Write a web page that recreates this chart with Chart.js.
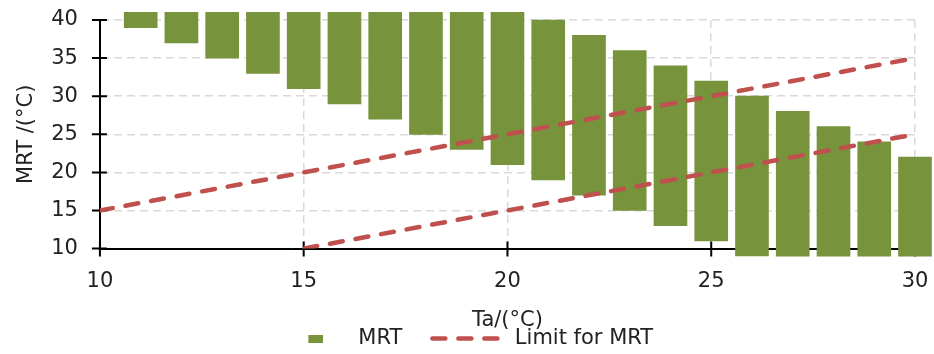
<!DOCTYPE html>
<html>
<head>
<meta charset="utf-8">
<script src="https://cdn.jsdelivr.net/npm/chart.js@4.4.1/dist/chart.umd.min.js"></script>
<style>
html, body { margin: 0; padding: 0; background: #fff; }
</style>
</head>
<body>
<canvas id="chart" width="934" height="354"></canvas>
<script>
// Ta positions of the MRT bars and their ranges
const taValues = [11, 12, 13, 14, 15, 16, 17, 18, 19, 20, 21, 22, 23, 24, 25, 26, 27, 28, 29, 30];
const mrtLow  = [39, 37, 35, 33, 31, 29, 27, 25, 23, 21, 19, 17, 15, 13, 11, 9, 7, 5, 3, 1];
const mrtHigh = [60, 58, 56, 54, 52, 50, 48, 46, 44, 42, 40, 38, 36, 34, 32, 30, 28, 26, 24, 22];

// limit lines for MRT
const limitTa = [10, 30];
const limitUpper = [15, 35];
const limitLower = [5, 25];

// tick labels
const xTicks = [10, 15, 20, 25, 30];
const yTicks = [10, 15, 20, 25, 30, 35, 40];

const green = '#77933C';
const red = '#C0504D';
const textColor = '#222222';
const gridColor = '#d9d9d9';
const font = { family: 'DejaVu Sans', size: 21 };
const limitDash = [13, 13];

// small swatch for the MRT legend entry
const mrtSwatch = document.createElement('canvas');
mrtSwatch.width = 23;
mrtSwatch.height = 8;
const sctx = mrtSwatch.getContext('2d');
sctx.fillStyle = green;
sctx.fillRect(8, 0, 15, 8);

// tick marks crossing the axis lines (the scale's own ticks are kept invisible
// and only used as spacing for the labels)
const crossTicks = {
    id: 'crossTicks',
    beforeDatasetsDraw(chart) {
        const { ctx, chartArea, scales: { x, y } } = chart;
        ctx.save();
        ctx.strokeStyle = '#000';
        ctx.lineWidth = 2;
        ctx.beginPath();
        xTicks.forEach(v => {
            const px = x.getPixelForValue(v);
            ctx.moveTo(px, chartArea.bottom + 8);
            ctx.lineTo(px, chartArea.bottom - 7);
        });
        yTicks.forEach(v => {
            const py = y.getPixelForValue(v);
            ctx.moveTo(chartArea.left - 8, py);
            ctx.lineTo(chartArea.left + 7, py);
        });
        ctx.stroke();
        ctx.restore();
    }
};

const lineStyle = {
    type: 'line',
    borderColor: red,
    backgroundColor: red,
    borderWidth: 4.5,
    borderDash: limitDash,
    borderCapStyle: 'round',
    pointRadius: 0,
    pointStyle: 'line',
    fill: false
};

new Chart(document.getElementById('chart'), {
    type: 'bar',
    data: {
        datasets: [
            { ...lineStyle, label: 'Limit for MRT', data: limitTa.map((t, i) => ({ x: t, y: limitUpper[i] })) },
            { ...lineStyle, label: '', data: limitTa.map((t, i) => ({ x: t, y: limitLower[i] })) },
            {
                type: 'bar',
                label: 'MRT',
                backgroundColor: green,
                borderWidth: 0,
                barThickness: 33,
                clip: { left: 20, right: 20, top: 8, bottom: 8 },
                data: taValues.map((t, i) => ({ x: t, y: [mrtLow[i], mrtHigh[i]] }))
            }
        ]
    },
    options: {
        responsive: false,
        animation: false,
        layout: { padding: { left: 14, right: 19, top: 20, bottom: -5 } },
        scales: {
            x: {
                type: 'linear',
                min: 10,
                max: 30,
                offset: false,
                afterBuildTicks: (s) => { s.ticks = xTicks.map(v => ({ value: v })); },
                ticks: { color: textColor, font, padding: 0, maxRotation: 0 },
                grid: { offset: false, color: gridColor, lineWidth: 1.5, tickLength: 20, tickColor: 'rgba(0,0,0,0)' },
                border: { display: true, color: '#000', width: 2, dash: [8, 5] },
                title: { display: true, text: 'Ta/(°C)', color: textColor, font, padding: { top: 14, bottom: -35 } }
            },
            y: {
                min: 10,
                max: 40,
                afterBuildTicks: (s) => { s.ticks = yTicks.map(v => ({ value: v })); },
                ticks: { color: textColor, font, padding: 0 },
                grid: { color: gridColor, lineWidth: 1.5, tickLength: 22, tickColor: 'rgba(0,0,0,0)' },
                border: { display: true, color: '#000', width: 2, dash: [8, 5] },
                title: { display: true, text: 'MRT /(°C)', color: textColor, font, padding: { top: 0, bottom: 12 } }
            }
        },
        plugins: {
            tooltip: { enabled: false },
            legend: {
                position: 'bottom',
                labels: {
                    usePointStyle: true,
                    pointStyleWidth: 72,
                    boxHeight: 8,
                    color: textColor,
                    font,
                    padding: 30,
                    generateLabels(chart) {
                        const items = Chart.defaults.plugins.legend.labels.generateLabels(chart);
                        return items
                            .filter(it => it.text)
                            .map(it => {
                                if (it.datasetIndex === 2) {
                                    it.pointStyle = mrtSwatch;
                                } else {
                                    it.pointStyle = 'line';
                                    it.lineDash = limitDash;
                                    it.lineCap = 'round';
                                    it.lineWidth = 4.5;
                                }
                                return it;
                            })
                            .sort((a, b) => b.datasetIndex - a.datasetIndex);
                    }
                }
            }
        }
    },
    plugins: [crossTicks]
});
</script>
</body>
</html>
